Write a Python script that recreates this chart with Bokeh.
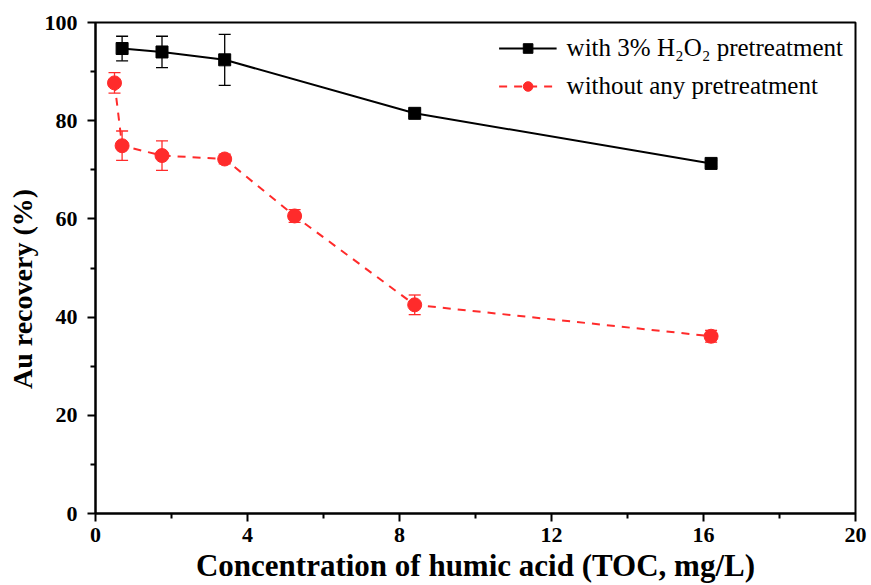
from bokeh.plotting import figure
from bokeh.models import ColumnDataSource, Whisker, TeeHead, Legend, LegendItem, FixedTicker
from bokeh.embed import file_html
from bokeh.resources import INLINE

# Au recovery vs humic acid concentration
h2o2_x = [0.7, 1.75, 3.4, 8.4, 16.2]
h2o2_y = [94.7, 94.0, 92.4, 81.5, 71.3]
h2o2_err = [2.5, 3.2, 5.2, 0.6, 0.6]

raw_x = [0.5, 0.7, 1.75, 3.4, 5.24, 8.4, 16.2]
raw_y = [87.7, 74.9, 72.9, 72.2, 60.6, 42.5, 36.1]
raw_err = [2.1, 3.0, 3.0, 1.0, 1.3, 2.0, 1.2]

x_ticks = [0, 4, 8, 12, 16, 20]
y_ticks = [0, 20, 40, 60, 80, 100]

RED = "#ff2b2b"
FONT = "Liberation Serif"


def with_bounds(xs, ys, es):
    return ColumnDataSource(dict(
        x=xs, y=ys,
        lower=[a - b for a, b in zip(ys, es)],
        upper=[a + b for a, b in zip(ys, es)],
    ))


src_h = with_bounds(h2o2_x, h2o2_y, h2o2_err)
src_r = with_bounds(raw_x, raw_y, raw_err)

p = figure(width=871, height=585, x_range=(0, 20), y_range=(0, 100),
           output_backend="svg", toolbar_location=None,
           min_border_left=95, min_border_right=16, min_border_top=22, min_border_bottom=72)
p.grid.visible = False
p.outline_line_color = "black"
p.outline_line_width = 2
p.background_fill_color = "white"
p.border_fill_color = "white"

# error bars
for src, col in ((src_h, "black"), (src_r, RED)):
    w = Whisker(source=src, base="x", lower="lower", upper="upper",
                line_color=col, line_width=1.3,
                upper_head=TeeHead(size=12, line_color=col, line_width=1.3),
                lower_head=TeeHead(size=12, line_color=col, line_width=1.3))
    p.add_layout(w)

l1 = p.line("x", "y", source=src_h, line_color="black", line_width=2)
m1 = p.scatter("x", "y", source=src_h, marker="square", size=12,
               fill_color="black", line_color="black")
l2 = p.line("x", "y", source=src_r, line_color=RED, line_width=2, line_dash="8 7")
m2 = p.scatter("x", "y", source=src_r, marker="circle", size=14,
               fill_color=RED, line_color=RED)

legend = Legend(items=[
    LegendItem(label="with 3% H\u2082O\u2082 pretreatment", renderers=[l1, m1]),
    LegendItem(label="without any pretreatment", renderers=[l2, m2]),
], location="top_right")
legend.border_line_color = None
legend.background_fill_alpha = 0
legend.label_text_font = FONT
legend.label_text_font_size = "25px"
legend.label_text_color = "black"
legend.glyph_width = 58
legend.glyph_height = 24
legend.label_standoff = 10
legend.spacing = 10
legend.margin = 12
legend.padding = 14
p.add_layout(legend)

p.xaxis.ticker = FixedTicker(ticks=x_ticks, minor_ticks=[2, 6, 10, 14, 18])
p.yaxis.ticker = FixedTicker(ticks=y_ticks, minor_ticks=[10, 30, 50, 70, 90])

for ax in (p.xaxis[0], p.yaxis[0]):
    ax.axis_line_width = 2
    ax.axis_line_color = "black"
    ax.major_tick_line_color = "black"
    ax.minor_tick_line_color = "black"
    ax.major_tick_line_width = 2
    ax.minor_tick_line_width = 2
    ax.major_tick_out = 8
    ax.major_tick_in = 0
    ax.minor_tick_out = 5
    ax.minor_tick_in = 0
    ax.major_label_text_font = FONT
    ax.major_label_text_font_style = "bold"
    ax.major_label_text_font_size = "22px"
    ax.major_label_text_color = "black"
    ax.axis_label_text_font = FONT
    ax.axis_label_text_font_style = "bold"
    ax.axis_label_text_color = "black"

p.xaxis.axis_label = "Concentration of humic acid (TOC, mg/L)"
# trailing non-breaking spaces nudge the rotated label toward the bottom
p.yaxis.axis_label = "Au recovery (%)" + "\u00a0" * 6
p.xaxis.axis_label_text_font_size = "31px"
p.yaxis.axis_label_text_font_size = "28px"
p.xaxis.major_label_standoff = 6
p.yaxis.major_label_standoff = 10
p.xaxis.axis_label_standoff = 3
p.yaxis.axis_label_standoff = 4

open("out.html", "w").write(file_html(p, INLINE))
